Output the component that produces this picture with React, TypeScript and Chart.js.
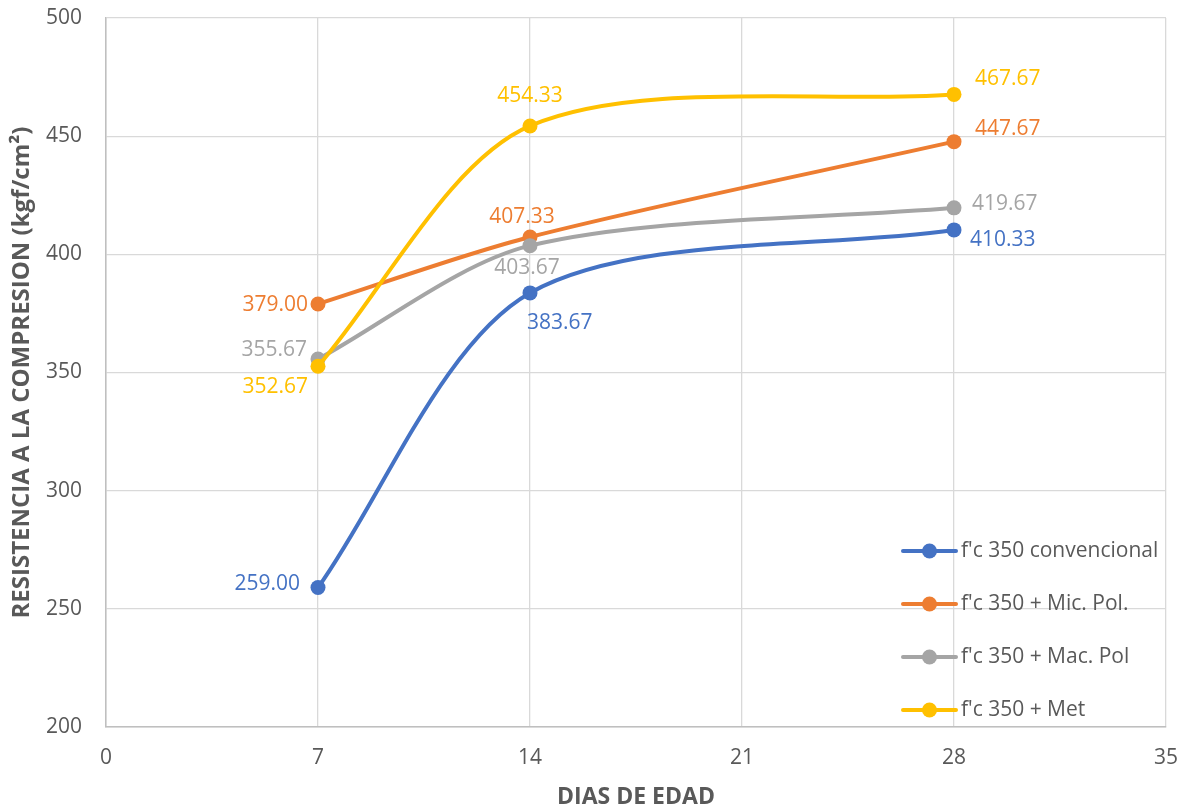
import React, { useEffect, useRef } from "react";
import { Chart, registerables } from "chart.js";

Chart.register(...registerables);

// Curing age (days) and compressive strength per mix (kgf/cm²)
const days = [7, 14, 28];
const convencional = [259.0, 383.67, 410.33];
const micPol = [379.0, 407.33, 447.67];
const macPol = [355.67, 403.67, 419.67];
const met = [352.67, 454.33, 467.67];

const seriesNames = [
  "f'c 350 convencional",
  "f'c 350 + Mic. Pol.",
  "f'c 350 + Mac. Pol",
  "f'c 350 + Met",
];
const seriesColors = ["#4472C4", "#ED7D31", "#A5A5A5", "#FFC000"];

const xTicks = [0, 7, 14, 21, 28, 35];
const yTicks = [200, 250, 300, 350, 400, 450, 500];

// Where each value label sits relative to its point: [align, dx, dy]
type Place = ["left" | "right" | "center", number, number];
const labelPlacement: Place[][] = [
  [["right", -18, -4], ["left", -3, 30], ["left", 16, 10]],
  [["right", -10, 1], ["center", -8, -20], ["left", 21, -13]],
  [["right", -11, -9], ["center", -3, 22], ["left", 18, -4]],
  [["right", -10, 21], ["center", 0, -30], ["left", 21, -15]],
];

const FONT = "'Open Sans', 'Noto Sans', sans-serif";
const TEXT_GRAY = "#595959";

const valueLabels = {
  id: "valueLabels",
  afterDatasetsDraw(chart: any) {
    const ctx = chart.ctx;
    ctx.save();
    ctx.font = `21px ${FONT}`;
    ctx.textBaseline = "middle";
    chart.data.datasets.forEach((ds: any, i: number) => {
      const meta = chart.getDatasetMeta(i);
      meta.data.forEach((pt: any, j: number) => {
        const [align, dx, dy] = labelPlacement[i][j];
        const v = ds.data[j].y as number;
        ctx.fillStyle = ds.borderColor;
        ctx.textAlign = align;
        ctx.fillText(v.toFixed(2), pt.x + dx, pt.y + dy);
      });
    });
    ctx.restore();
  },
};

const insideLegend = {
  id: "insideLegend",
  afterDraw(chart: any) {
    const ctx = chart.ctx;
    const area = chart.chartArea;
    const x0 = area.right - 263;
    const yStart = area.bottom - 176;
    const rowGap = 53;
    ctx.save();
    ctx.font = `21px ${FONT}`;
    ctx.textBaseline = "middle";
    ctx.textAlign = "left";
    chart.data.datasets.forEach((ds: any, i: number) => {
      const y = yStart + i * rowGap;
      ctx.strokeStyle = ds.borderColor;
      ctx.lineWidth = 4;
      ctx.lineCap = "round";
      ctx.beginPath();
      ctx.moveTo(x0, y);
      ctx.lineTo(x0 + 53, y);
      ctx.stroke();
      ctx.fillStyle = ds.borderColor;
      ctx.beginPath();
      ctx.arc(x0 + 26.5, y, 7.5, 0, Math.PI * 2);
      ctx.fill();
      ctx.fillStyle = TEXT_GRAY;
      ctx.fillText(ds.label, x0 + 58, y);
    });
    ctx.restore();
  },
};

const noEdgePadding = (scale: any) => {
  scale.paddingTop = 0;
  scale.paddingBottom = 0;
  scale.paddingLeft = 0;
  scale.paddingRight = 0;
};

export default function App() {
  const canvasRef = useRef<HTMLCanvasElement | null>(null);

  useEffect(() => {
    if (!canvasRef.current) return;
    const seriesValues = [convencional, micPol, macPol, met];
    const drawOrder = [3, 2, 1, 0];
    const chart = new Chart(canvasRef.current, {
      type: "line",
      data: {
        datasets: seriesValues.map((vals, i) => ({
          label: seriesNames[i],
          data: days.map((d, j) => ({ x: d, y: vals[j] })),
          borderColor: seriesColors[i],
          backgroundColor: seriesColors[i],
          borderWidth: 4,
          pointRadius: 7.5,
          pointHoverRadius: 7.5,
          pointBorderWidth: 0,
          tension: 0.3,
          order: drawOrder[i],
          fill: false,
        })),
      },
      options: {
        animation: false,
        responsive: false,
        events: [],
        layout: { padding: { top: 18, right: 15, left: 0, bottom: 0 } },
        plugins: {
          legend: { display: false },
          tooltip: { enabled: false },
        },
        scales: {
          x: {
            type: "linear",
            min: 0,
            max: 35,
            afterBuildTicks: (scale: any) => {
              scale.ticks = xTicks.map((v) => ({ value: v }));
            },
            afterFit: (scale: any) => {
              scale.height = 80;
              noEdgePadding(scale);
            },
            grid: { color: "#D9D9D9", lineWidth: 1.3, drawTicks: false },
            border: { color: "#BFBFBF", width: 1.5 },
            ticks: {
              color: TEXT_GRAY,
              font: { family: FONT, size: 21 },
              padding: 18,
              maxRotation: 0,
            },
            title: {
              display: true,
              text: "DIAS DE EDAD",
              color: TEXT_GRAY,
              font: { family: FONT, size: 23, weight: "bold", lineHeight: 0.87 },
              padding: { top: 0, bottom: 0 },
            },
          },
          y: {
            type: "linear",
            min: 200,
            max: 500,
            afterBuildTicks: (scale: any) => {
              scale.ticks = yTicks.map((v) => ({ value: v }));
            },
            afterFit: (scale: any) => {
              scale.width = 106;
              noEdgePadding(scale);
            },
            grid: { color: "#D9D9D9", lineWidth: 1.3, drawTicks: false },
            border: { color: "#BFBFBF", width: 1.5 },
            ticks: {
              color: TEXT_GRAY,
              font: { family: FONT, size: 21 },
              padding: 24,
            },
            title: {
              display: true,
              text: "RESISTENCIA A LA COMPRESION (kgf/cm²)",
              color: TEXT_GRAY,
              font: { family: FONT, size: 24, weight: "bold", lineHeight: 1.2 },
              padding: { top: 8, bottom: 0 },
            },
          },
        },
      },
      plugins: [valueLabels, insideLegend],
    });
    return () => chart.destroy();
  }, []);

  return (
    <div
      style={{
        position: "fixed",
        left: 0,
        top: 0,
        width: 1181,
        height: 807,
        background: "#FFFFFF",
      }}
    >
      <canvas ref={canvasRef} width={1181} height={807} />
    </div>
  );
}
